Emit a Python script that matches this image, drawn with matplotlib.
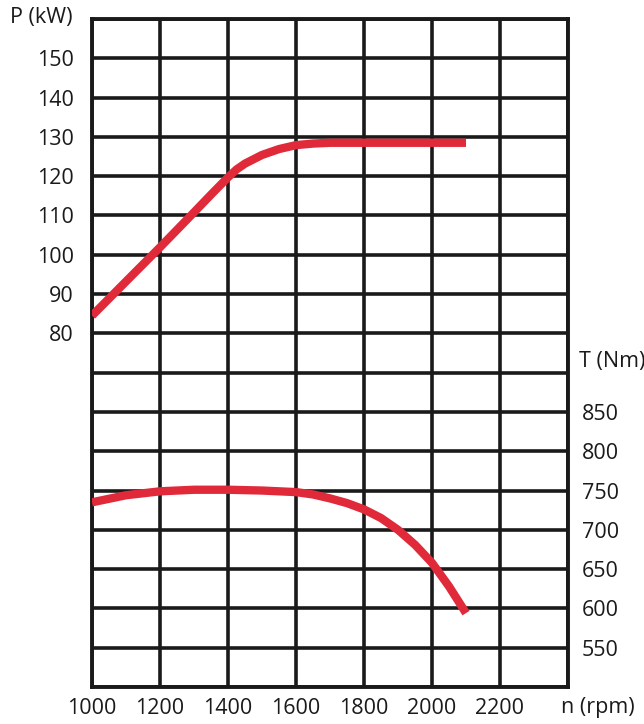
import matplotlib.pyplot as plt
from matplotlib.ticker import FixedLocator, FuncFormatter

plt.rcParams['font.family'] = ['Open Sans', 'DejaVu Sans']

# engine speed (rpm) and power (kW)
rpm_p = [1000, 1100, 1200, 1300, 1350, 1400, 1425, 1450, 1500, 1550, 1600, 1650, 1700,
         1800, 1900, 2000, 2100]
power = [84.5, 93.2, 101.9, 110.8, 115.3, 119.7, 121.7, 123.2, 125.4, 126.9, 127.9, 128.3, 128.5,
         128.5, 128.5, 128.5, 128.5]

# engine speed (rpm) and torque (Nm)
rpm_t = [1000, 1100, 1200, 1300, 1400, 1500, 1600, 1650, 1700, 1750, 1800, 1850, 1900,
         1950, 2000, 2050, 2100]
torque = [735, 744, 749, 751, 751, 750, 748, 745, 740, 734, 726, 715, 700,
          681, 658, 628, 594]

x_ticks = [1000, 1200, 1400, 1600, 1800, 2000, 2200, 2400]
p_labels = [80, 90, 100, 110, 120, 130, 140, 150]
t_labels = [550, 600, 650, 700, 750, 800, 850]

W, H = 644, 724
fig = plt.figure(figsize=(W / 100, H / 100), dpi=100)
ax = fig.add_axes([92 / W, 1 - 687 / H, (568 - 92) / W, (687 - 19) / H])

red = '#e02a3a'
ink = '#1a1a1a'
fs = 15.5

ax.set_xlim(1000, 2400)
ax.set_ylim(-10, 160)
ax.xaxis.set_major_locator(FixedLocator(x_ticks))
ax.yaxis.set_major_locator(FixedLocator(list(range(-10, 161, 10))))
ax.xaxis.set_major_formatter(FuncFormatter(lambda v, p: '%d' % v if v < 2400 else ''))
ax.yaxis.set_major_formatter(FuncFormatter(lambda v, p: '%d' % v if int(round(v)) in p_labels else ''))
ax.grid(True, color=ink, linewidth=2.6)
ax.set_axisbelow(True)
for s in ax.spines.values():
    s.set_linewidth(2.8)
    s.set_color(ink)
ax.tick_params(axis='x', length=0, pad=8, labelsize=fs, colors=ink)
ax.tick_params(axis='y', length=0, pad=13, labelsize=fs, colors=ink)

ax.plot(rpm_p, power, color=red, linewidth=6, solid_capstyle='butt', solid_joinstyle='round', zorder=5)

ax2 = ax.twinx()
ax2.set_ylim(500, 1350)
ax2.yaxis.set_major_locator(FixedLocator(t_labels))
ax2.tick_params(axis='y', length=0, pad=10, labelsize=fs, colors=ink)
for s in ax2.spines.values():
    s.set_visible(False)
ax2.plot(rpm_t, torque, color=red, linewidth=6, solid_capstyle='butt', solid_joinstyle='round', zorder=5)

fig.text(73 / W, 1 - 18 / H, 'P (kW)', ha='right', va='center', fontsize=fs, color=ink)
fig.text(579 / W, 1 - 362 / H, 'T (Nm)', ha='left', va='center', fontsize=fs, color=ink)
fig.text(561 / W, 1 - 707 / H, 'n (rpm)', ha='left', va='center', fontsize=fs, color=ink)

fig.savefig('out.png', dpi=100)
